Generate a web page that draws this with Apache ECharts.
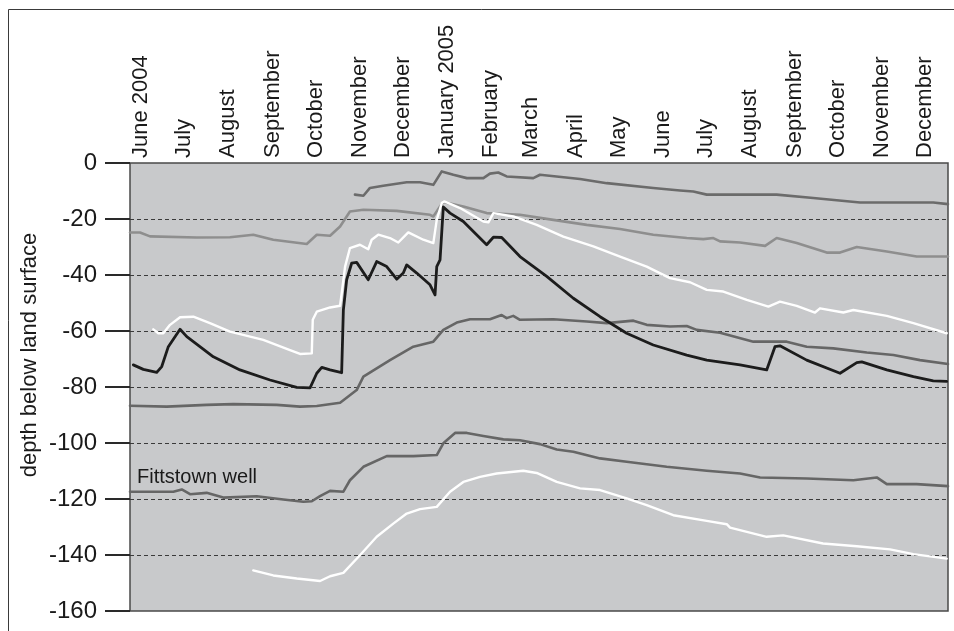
<!DOCTYPE html>
<html>
<head>
<meta charset="utf-8">
<script src="https://cdn.jsdelivr.net/npm/echarts@6/dist/echarts.min.js"></script>
<style>
html,body{margin:0;padding:0;background:#fff;}
#chart{width:954px;height:631px;}
</style>
</head>
<body>
<div id="chart"></div>
<script>
// x values: days since 1 June 2004; y values: depth below land surface
var monthLabels = ['June 2004','July','August','September','October','November','December','January 2005','February','March','April','May','June','July','August','September','October','November','December'];
var monthStartDays = [0,30,61,92,122,153,183,214,245,273,304,334,365,395,426,457,487,518,548];
var yTicks = [0,-20,-40,-60,-80,-100,-120,-140,-160];

var blackWell = [[2.3,-72.1],[9.3,-73.7],[18.7,-74.8],[22.2,-72.7],[26.8,-65.6],[35.0,-59.4],[39.7,-62],[58.3,-69.2],[76.9,-73.9],[97.9,-77.5],[116.6,-80.1],[125.9,-80.3],[130.6,-75.1],[134.1,-73],[139.9,-73.9],[148.0,-74.9],[149.2,-52.5],[151.5,-41.7],[155.0,-35.8],[158.5,-35.5],[166.6,-41.7],[172.5,-35.2],[179.5,-37],[186.5,-41.5],[191.1,-39.3],[193.5,-36.4],[200.5,-39.3],[209.8,-43.5],[213.3,-47.1],[214.5,-37],[216.8,-34.6],[219.1,-15.7],[223.8,-17.9],[233.1,-20.9],[249.4,-29.2],[254.1,-26.5],[259.9,-26.6],[272.7,-33.4],[291.4,-40.5],[310.0,-48.3],[328.7,-54.9],[347.3,-60.8],[365.9,-65],[389.3,-68.6],[403.3,-70.4],[426.6,-72.1],[445.2,-73.9],[451.0,-65.6],[454.5,-65.3],[473.2,-70.4],[496.5,-75.1],[508.2,-71.3],[511.7,-71],[529.2,-73.9],[547.8,-76.3],[561.7,-77.8],[571.1,-78]];

var whiteUpper = [[16.3,-59.4],[19.8,-60.8],[23.3,-60.8],[28.0,-57.8],[35.0,-55.1],[44.3,-54.9],[55.9,-57.2],[69.9,-60.2],[93.2,-63.2],[111.9,-66.8],[118.9,-68.2],[127.1,-68],[127.8,-56],[130.6,-53.1],[139.9,-51.6],[146.9,-51],[150.4,-37],[153.8,-30.4],[160.8,-29.2],[166.6,-30.8],[169.0,-27.4],[173.6,-25.6],[181.8,-26.8],[187.6,-28.4],[194.6,-24.8],[205.1,-27.4],[212.1,-28.6],[214.5,-20.3],[218.0,-14.3],[219.5,-13.7],[221.5,-14.1],[230.8,-16.1],[247.1,-20.9],[250.6,-21.2],[254.1,-17.9],[268.0,-19.1],[284.4,-22.1],[303.0,-26.3],[324.0,-29.8],[342.7,-33.4],[361.3,-37],[377.6,-41.1],[391.6,-42.6],[403.3,-45.3],[414.9,-45.9],[431.3,-48.9],[446.4,-51.3],[454.5,-49.5],[466.2,-51],[479.0,-53.4],[482.5,-51.9],[498.8,-53.4],[505.8,-52.5],[529.2,-54.6],[547.8,-57.2],[571.1,-60.8]];

var lightGray = [[0,-24.8],[7.0,-24.8],[14.0,-26.2],[46.6,-26.6],[69.9,-26.5],[86.2,-25.6],[100.2,-27.4],[123.6,-28.9],[130.6,-25.6],[139.9,-26],[146.9,-22.7],[153.8,-17.3],[163.2,-16.7],[186.5,-17.1],[209.8,-18.5],[212.1,-19.1],[216.8,-15.5],[219.1,-13.9],[233.1,-15.5],[249.4,-17.9],[272.7,-18.5],[296.0,-20.3],[319.4,-22.1],[342.7,-23.6],[365.9,-25.6],[389.3,-26.8],[400.9,-27.2],[407.9,-26.8],[412.6,-28],[426.6,-28.4],[444.1,-29.6],[452.2,-26.8],[466.2,-28.6],[487.2,-32],[496.5,-32],[508.2,-30],[529.2,-31.6],[550.1,-33.4],[572,-33.4]];

var topGray = [[157.3,-11.3],[163.2,-11.7],[167.8,-8.9],[177.1,-8.1],[193.5,-6.9],[202.8,-6.9],[212.1,-7.8],[218.0,-3],[226.1,-4.2],[235.5,-5.4],[247.1,-5.4],[251.7,-3.8],[257.5,-3.4],[263.4,-4.8],[282.0,-5.4],[286.7,-4.2],[314.7,-5.7],[333.4,-7.2],[365.9,-8.9],[384.6,-9.8],[393.9,-10.2],[403.3,-11.3],[452.2,-11.3],[477.8,-12.5],[510.5,-14.1],[561.7,-14.1],[572,-14.7]];

var middleGray = [[0,-86.7],[25.7,-87],[53.6,-86.4],[72.2,-86.1],[102.6,-86.4],[118.9,-87],[130.6,-86.8],[146.9,-85.6],[149.2,-84.7],[158.5,-81.1],[163.2,-76.3],[181.8,-70.4],[198.1,-65.6],[212.1,-63.8],[219.1,-59.6],[228.5,-57],[237.8,-55.8],[251.7,-55.8],[259.9,-54.3],[263.4,-55.4],[268.0,-54.6],[272.7,-56],[296.0,-55.8],[319.4,-56.6],[333.4,-57.2],[352.0,-56.3],[361.3,-57.8],[377.6,-58.4],[389.3,-58.2],[396.3,-59.6],[412.6,-60.6],[435.9,-63.8],[459.2,-63.8],[473.2,-65.6],[491.8,-66.2],[515.2,-67.7],[533.8,-68.6],[552.4,-70.4],[572,-71.8]];

var fittstown = [[0,-117.4],[30.3,-117.4],[36.2,-116.6],[42.0,-118.3],[53.6,-117.8],[65.2,-119.5],[88.6,-119],[107.2,-120.2],[121.2,-121],[127.1,-120.8],[132.9,-119],[139.9,-117.1],[149.2,-117.4],[153.8,-113.3],[163.2,-108.5],[179.5,-104.7],[198.1,-104.7],[214.5,-104.3],[219.1,-100.1],[227.3,-96.4],[235.5,-96.4],[247.1,-97.5],[261.1,-98.7],[272.7,-99],[286.7,-100.4],[298.4,-102.3],[310.0,-103.1],[328.7,-105.5],[347.3,-106.7],[375.3,-108.5],[403.3,-109.9],[426.6,-110.9],[440.6,-112.3],[473.2,-112.7],[505.8,-113.3],[522.2,-112.3],[529.2,-114.7],[550.1,-114.7],[572,-115.4]];

var whiteLower = [[86.2,-145.5],[100.2,-147.3],[116.6,-148.4],[132.9,-149.3],[139.9,-147.6],[149.2,-146.4],[160.8,-140.1],[172.5,-133.5],[184.1,-128.8],[193.5,-125.2],[202.8,-123.6],[214.5,-122.8],[223.8,-117.4],[233.1,-113.9],[244.8,-112.1],[256.4,-110.9],[275.0,-109.9],[284.4,-110.7],[298.4,-113.9],[314.7,-116.2],[328.7,-116.8],[347.3,-119.8],[361.3,-122.2],[379.9,-125.8],[403.3,-127.8],[417.3,-129],[419.6,-130.2],[445.2,-133.5],[456.8,-133],[484.6,-135.9],[508.2,-136.9],[531.5,-138],[547.8,-139.7],[571.1,-141.3]];

var FONT = "'Liberation Sans', Arial, sans-serif";
var chart = echarts.init(document.getElementById('chart'), null, {renderer:'canvas'});

function line(name, data, color, width, z) {
  return {
    name: name, type: 'line', data: data, xAxisIndex: 0, yAxisIndex: 0,
    showSymbol: false, symbol: 'none', smooth: false, z: z || 2,
    lineStyle: {color: color, width: width, join: 'round', cap: 'round'},
    emphasis: {disabled: true}, animation: false
  };
}

chart.setOption({
  animation: false,
  backgroundColor: '#ffffff',
  textStyle: {fontFamily: FONT},
  grid: {left: 130, right: 6, top: 163, bottom: 20, show: true,
    backgroundColor: '#c8c9cb', borderColor: '#4a4a4a', borderWidth: 1.5, containLabel: false},
  xAxis: [
    {type: 'value', position: 'bottom', min: 0, max: 572,
      axisLine: {show: false}, axisTick: {show: false}, axisLabel: {show: false}, splitLine: {show: false}},
    {type: 'value', position: 'top', min: 0, max: 572,
      axisLine: {show: false}, axisTick: {show: false}, splitLine: {show: false},
      axisLabel: {
        customValues: monthStartDays,
        rotate: -90, margin: 5, fontSize: 22, color: '#1a1a1a', fontFamily: FONT,
        align: 'left', verticalAlign: 'top',
        formatter: function (v) { var i = monthStartDays.indexOf(v); return i >= 0 ? monthLabels[i] : ''; }
      }}
  ],
  yAxis: {
    type: 'value', min: -160, max: 0, interval: 20,
    axisLine: {show: false},
    axisTick: {show: true, length: 25, inside: false, lineStyle: {color: '#2a2a2a', width: 2}},
    axisLabel: {fontSize: 24, color: '#1a1a1a', margin: 33, fontFamily: FONT,
      customValues: yTicks},
    splitLine: {show: true, showMinLine: false, showMaxLine: false,
      lineStyle: {color: '#3a3a3a', width: 1, type: [4, 3]}}
  },
  graphic: [
    {type: 'rect', left: 6, top: 7, shape: {x: 0.5, y: 0.5, width: 947, height: 640},
      style: {fill: null, stroke: '#3a3a3a', lineWidth: 1}, z: 100, silent: true},
    {type: 'text', x: 30, y: 355, rotation: Math.PI / 2, silent: true, z: 100,
      style: {text: 'depth below land surface', fontSize: 22, fontFamily: FONT, fill: '#1a1a1a',
        align: 'center', verticalAlign: 'middle'}},
    {type: 'text', x: 137, y: 477, silent: true, z: 100,
      style: {text: 'Fittstown well', fontSize: 20, fontFamily: FONT, fill: '#1a1a1a',
        align: 'left', verticalAlign: 'middle'}}
  ],
  series: [
    line('upper gray well', topGray, '#6b6b6b', 2.6, 2),
    line('light gray well', lightGray, '#8e8e8e', 2.6, 2),
    line('middle gray well', middleGray, '#666666', 2.6, 2),
    line('Fittstown well', fittstown, '#666666', 2.6, 2),
    line('upper white well', whiteUpper, '#ffffff', 2.4, 3),
    line('lower white well', whiteLower, '#ffffff', 2.4, 3),
    line('black well', blackWell, '#1c1c1c', 2.8, 4)
  ]
});
</script>
</body>
</html>
